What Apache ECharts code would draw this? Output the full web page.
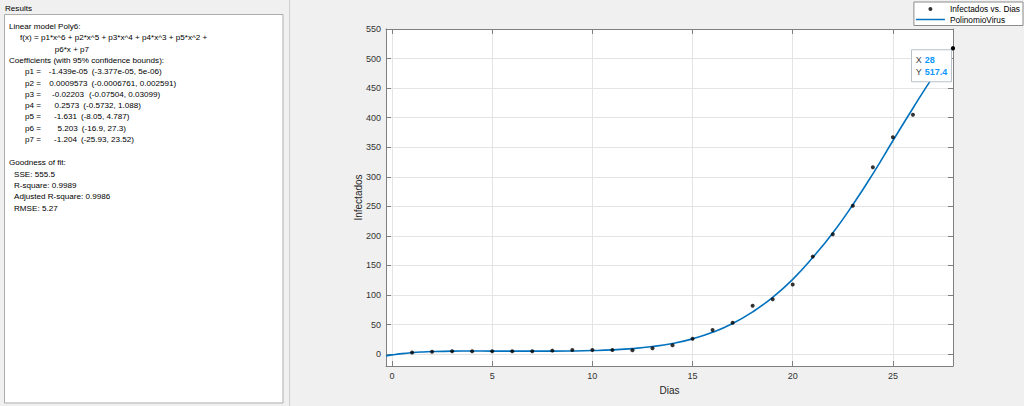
<!DOCTYPE html>
<html><head><meta charset="utf-8">
<script src="https://cdn.jsdelivr.net/npm/echarts@6/dist/echarts.min.js"></script>
<style>html,body{margin:0;padding:0;background:#f0f0f0;}#c{width:1024px;height:406px;}</style>
</head><body><div id="c"></div>
<script>
// ---------------- data ----------------
const dias = [1,2,3,4,5,6,7,8,9,10,11,12,13,14,15,16,17,18,19,20,21,22,23,24,25,26,27,28];
const infectados = [3,4,5,5,5,5,5,6,7,7,7,6.5,10,15,26,41,53,82,93,118,165,203,251,316,367,405,470,517.4];
const fitX = [-0.3,0,0.5,1,1.5,2,3,4,5,6,7,8,9,10,11,12,13,14,15,16,17,18,19,20,21,22,23,24,25,26,27,28];
const fitY = [-2.9,-1.2,1.0,2.6,3.7,4.4,5.1,5.3,5.2,5.1,5.1,5.1,5.4,6.1,7.3,9.4,12.9,18.2,25.9,37.0,51.9,71.6,96.1,126.5,163.5,205,252.7,305,361,416,469,517.4];
const xRange = [-0.3, 28];
const yRange = [-20, 550];
const xStep = 5;
const yStep = 50;
const seriesNames = ['Infectados vs. Dias', 'PolinomioVirus'];
const xName = 'Dias';
const yName = 'Infectados';
const tipX = 28;
const tipY = 517.4;
const panelTitle = 'Results';
const modelLines = ['Linear model Poly6:', 'f(x) = p1*x^6 + p2*x^5 + p3*x^4 + p4*x^3 + p5*x^2 +', 'p6*x + p7', 'Coefficients (with 95% confidence bounds):'];
const coefNames = ['p1 =','p2 =','p3 =','p4 =','p5 =','p6 =','p7 ='];
const coefValues = ['-1.439e-05','0.0009573','-0.02203','0.2573','-1.631','5.203','-1.204'];
const coefBounds = ['(-3.377e-05, 5e-06)','(-0.0006761, 0.002591)','(-0.07504, 0.03099)','(-0.5732, 1.088)','(-8.05, 4.787)','(-16.9, 27.3)','(-25.93, 23.52)'];
const gofTitle = 'Goodness of fit:';
const gofLines = ['SSE: 555.5','R-square: 0.9989','Adjusted R-square: 0.9986','RMSE: 5.27'];

// ---------------- layout ----------------
const FONT = '"Liberation Sans", Arial, sans-serif';
const PF = '8.1px ' + FONT;
const modelPos = [[9,26],[20,37.5],[54.7,49],[9,60.7]];
const coefY = [71.7,83,94.7,105.8,116.9,128.1,139.3];
const coefValX = [48.7,49.3,52,54.5,54,57.5,54];
const coefBndX = [89.7,91,89,79,79.3,78.7,79.3];
const gofPos = [[14,174],[14,185.3],[14,196.7],[14,208]];

const mctx = document.createElement('canvas').getContext('2d');
mctx.font = PF;
function tw(t){ return mctx.measureText(t).width; }

function txt(t, x, y, extra) {
  return Object.assign({type:'text', x:x, y:y, silent:true, style:{text:t, font:PF, fill:'#000', verticalAlign:'middle', align:'left'}}, extra||{});
}
const graphics = [];
graphics.push({type:'rect', shape:{x:4.5,y:14.5,width:278.5,height:388.5}, style:{fill:'#fff', stroke:'#adadad', lineWidth:1}, silent:true});
graphics.push({type:'rect', shape:{x:289,y:0,width:1,height:406}, style:{fill:'#cfcfcf'}, silent:true});
graphics.push(txt(panelTitle, 5, 8.5));
modelLines.forEach((t,i)=>graphics.push(txt(t, modelPos[i][0], modelPos[i][1])));
coefNames.forEach((t,i)=>{
  graphics.push(txt(t, 25, coefY[i]));
  graphics.push(txt(coefValues[i], coefValX[i], coefY[i]));
  const bx = Math.max(coefBndX[i], coefValX[i] + tw(coefValues[i]) + 4);
  graphics.push(txt(coefBounds[i], bx, coefY[i]));
});
graphics.push(txt(gofTitle, 9, 162.7));
gofLines.forEach((t,i)=>graphics.push(txt(t, gofPos[i][0], gofPos[i][1])));

const AX = '#7f7f7f';
const tickLbl = {color:'#333', fontSize:9, fontFamily:FONT};
function baseAxis(range, step, pos, main) {
  return {
    type:'value', min:range[0], max:range[1], minInterval:step, maxInterval:step, position:pos,
    axisLine:{show:true, onZero:false, lineStyle:{color:AX, width:1}},
    axisTick:{show:true, inside:true, length:5, lineStyle:{color:AX, width:1}},
    axisLabel:main ? Object.assign({show:true, showMinLabel:false}, tickLbl) : {show:false},
    splitLine:{show:main, lineStyle:{color:'#e4e4e4', width:1}}
  };
}
const xMain = baseAxis(xRange, xStep, 'bottom', true);
xMain.axisLabel.showMaxLabel = false; xMain.axisLabel.margin = 5;
Object.assign(xMain, {name:xName, nameLocation:'middle', nameGap:19, nameMoveOverlap:false, nameTextStyle:{color:'#262626', fontSize:10, fontFamily:FONT}});
const yMain = baseAxis(yRange, yStep, 'left', true);
yMain.axisLabel.showMaxLabel = true; yMain.axisLabel.margin = 5;
Object.assign(yMain, {name:yName, nameLocation:'middle', nameGap:23, nameRotate:90, nameMoveOverlap:false, nameTextStyle:{color:'#262626', fontSize:10, fontFamily:FONT}});

// legend icons: thin line / small dot inside a 29x10 box (290x100 units)
const lineIcon = 'path://M0 0h0.5v0.5h-0.5z M0 42h290v16h-290z M289.5 99.5h0.5v0.5h-0.5z';
const dotIcon = 'path://M0 0h0.5v0.5h-0.5z M125 50a20 20 0 1 0 40 0a20 20 0 1 0 -40 0z M289.5 99.5h0.5v0.5h-0.5z';

const chart = echarts.init(document.getElementById('c'), null, {renderer:'svg', width:1024, height:406});
chart.setOption({
  backgroundColor:'#f0f0f0',
  animation:false,
  grid:{left:386, right:71, top:29, bottom:40, show:true, backgroundColor:'#fff', borderWidth:0, containLabel:false},
  xAxis:[xMain, baseAxis(xRange, xStep, 'top', false)],
  yAxis:[yMain, baseAxis(yRange, yStep, 'right', false)],
  legend:{
    data:[{name:seriesNames[0], icon:dotIcon}, {name:seriesNames[1], icon:lineIcon}],
    orient:'vertical', right:1, top:2, padding:[2,3,1,2], itemGap:0.5, itemWidth:29, itemHeight:10,
    symbolKeepAspect:true,
    backgroundColor:'#fff', borderColor:'#8c8c8c', borderWidth:1, borderRadius:0,
    textStyle:{fontSize:8.3, color:'#000', fontFamily:FONT}
  },
  series:[
    {name:seriesNames[0], type:'scatter', data:dias.map((d,i)=>[d, infectados[i]]), symbolSize:4, itemStyle:{color:'#000'}, z:4, xAxisIndex:0, yAxisIndex:0},
    {name:seriesNames[1], type:'line', data:fitX.map((d,i)=>[d, fitY[i]]), showSymbol:false, symbol:'none', smooth:true, lineStyle:{color:'#0072BD', width:1.6}, itemStyle:{color:'#0072BD'}, z:3, xAxisIndex:0, yAxisIndex:0}
  ],
  graphic:graphics
});

// data tip anchored through the axes' scales
const p = chart.convertToPixel({xAxisIndex:0, yAxisIndex:0}, [tipX, tipY]);
const tipFont = '9px ' + FONT;
const tipBold = 'bold 9px ' + FONT;
const gx = p[0]-42, gy = p[1]+1;
const Z = 100;
graphics.push({type:'rect', z:Z, silent:true, shape:{x:gx+0.5,y:gy+0.5,width:40,height:32}, style:{fill:'#fff', stroke:'#b9c1cc', lineWidth:1}});
graphics.push({type:'text', z:Z+1, silent:true, x:gx+4.7, y:gy+10.5, style:{text:'X', font:tipFont, fill:'#404040', verticalAlign:'middle'}});
graphics.push({type:'text', z:Z+1, silent:true, x:gx+13.7, y:gy+10.5, style:{text:String(tipX), font:tipBold, fill:'#0a96ff', verticalAlign:'middle'}});
graphics.push({type:'text', z:Z+1, silent:true, x:gx+4.7, y:gy+22.7, style:{text:'Y', font:tipFont, fill:'#404040', verticalAlign:'middle'}});
graphics.push({type:'text', z:Z+1, silent:true, x:gx+13.7, y:gy+22.7, style:{text:String(tipY), font:tipBold, fill:'#0a96ff', verticalAlign:'middle'}});
graphics.push({type:'circle', z:Z+2, silent:true, x:p[0], y:p[1], shape:{r:2}, style:{fill:'#000'}});
chart.setOption({graphic:graphics}, {replaceMerge:['graphic']});
</script>
</body></html>
